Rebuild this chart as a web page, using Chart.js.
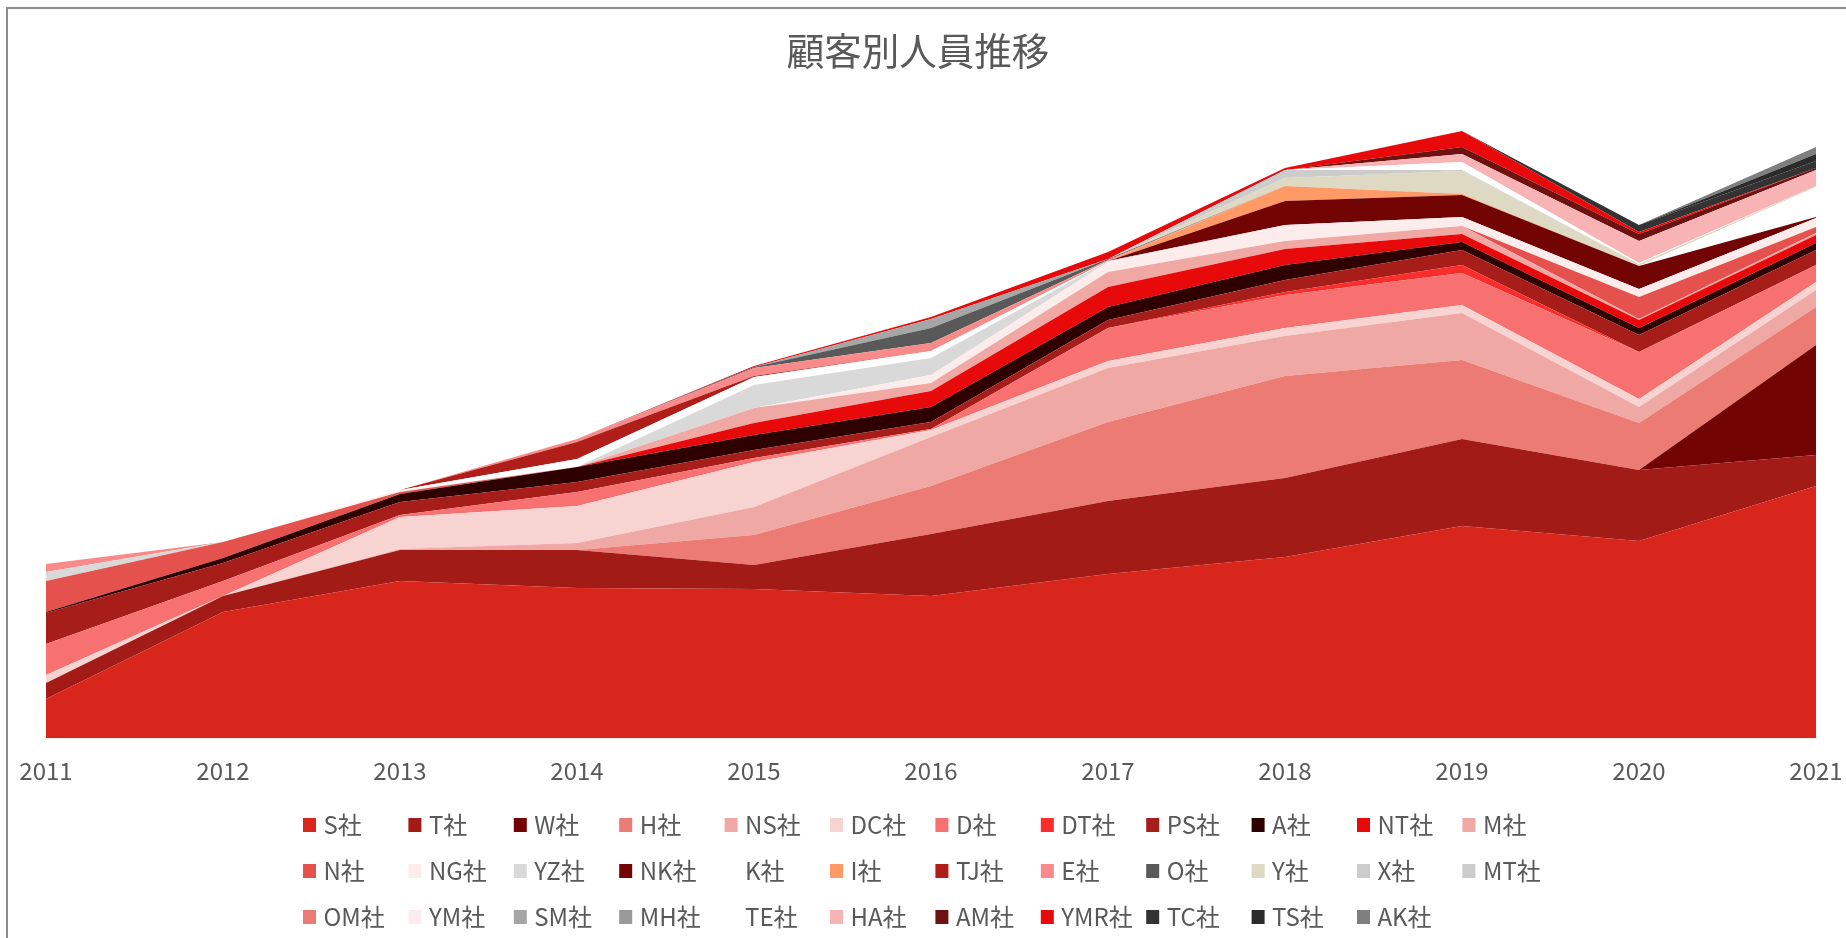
<!DOCTYPE html>
<html>
<head>
<meta charset="utf-8">
<script src="https://cdn.jsdelivr.net/npm/chart.js@4.4.1/dist/chart.umd.min.js"></script>
<style>
  html, body { margin: 0; padding: 0; background: #ffffff; overflow: hidden; }
  #frame { position: absolute; left: 6px; top: 7px; width: 2400px; height: 1600px; border: 2px solid #8c8c8c; box-sizing: border-box; }
  #wrap { position: absolute; left: 0; top: 0; width: 1846px; height: 938px; }
</style>
</head>
<body>
<div id="frame"></div>
<div id="wrap"><canvas id="c" width="1846" height="938"></canvas></div>
<script>
// Categories (years)
const years = ['2011','2012','2013','2014','2015','2016','2017','2018','2019','2020','2021'];

const chartTitle = '顧客別人員推移';

// Company names (legend order = stacking order, bottom to top)
const companies = ['S社','T社','W社','H社','NS社','DC社','D社','DT社','PS社','A社','NT社','M社',
                   'N社','NG社','YZ社','NK社','K社','I社','TJ社','E社','O社','Y社','X社','MT社',
                   'OM社','YM社','SM社','MH社','TE社','HA社','AM社','YMR社','TC社','TS社','AK社'];

// Series values, one array per company, 2011..2021
const S   = [39,126,157,150,149,142,164,181,212,197,252];
const T   = [16,16,31,38,24,62,73,79,87,71,31];
const W   = [0,0,0,0,0,0,0,0,0,0,110];
const H   = [0,0,0,0,30,48,79,102,79,47,38];
const NS  = [0,0,1,7,28,49,54,40,47,16,17];
const DC  = [8,0,32,37,45,7,7,8,8,8,8];
const D   = [31,15,2,14,4,1,33,33,32,47,17];
const DT  = [0,0,0,0,0,0,0,3,8,0,0];
const PS  = [31,18,13,10,8,7,8,12,15,17,15];
const A   = [1,5,8,15,15,15,13,15,8,7,7];
const NT  = [0,0,0,0,12,16,20,16,8,8,8];
const M   = [0,0,0,0,15,8,15,8,8,1,2];
const N   = [31,16,2,0,0,0,0,0,0,22,6];
const NG  = [0,0,2,0,0,8,10,16,9,8,9];
const YZ  = [9,0,0,0,23,17,1,0,0,0,0];
const NK  = [0,0,0,0,0,0,0,24,22,23,1];
const K   = [0,0,0,8,8,7,0,0,0,0,30];
const I   = [0,0,0,0,0,0,0,15,1,0,0];
const TJ  = [0,0,0,17,1,0,0,0,0,0,0];
const E   = [8,0,0,3,8,8,1,0,0,0,0];
const O   = [0,0,0,0,1,15,1,0,0,0,0];
const Y   = [0,0,0,0,0,0,0,8,23,2,1];
const X   = [0,0,0,0,0,0,0,8,1,0,0];
const MT  = [0,0,0,0,0,0,0,0,0,0,0];
const OM  = [0,0,0,0,0,0,0,0,0,0,0];
const YM  = [0,0,0,0,0,0,0,0,0,0,0];
const SM  = [0,0,0,0,0,9,0,0,0,0,0];
const MH  = [0,0,0,0,0,0,0,0,0,0,0];
const TE  = [0,0,0,0,0,0,0,0,8,1,0];
const HA  = [0,0,0,0,0,0,0,0,8,22,16];
const AM  = [0,0,0,0,0,0,0,0,7,7,2];
const YMR = [0,0,0,0,1,2,7,2,16,2,0];
const TC  = [0,0,0,0,0,0,0,0,0,7,7];
const TS  = [0,0,0,0,0,0,0,0,0,0,7];
const AK  = [0,0,0,0,0,0,0,0,0,0,7];

const seriesValues = [S,T,W,H,NS,DC,D,DT,PS,A,NT,M,N,NG,YZ,NK,K,I,TJ,E,O,Y,X,MT,OM,YM,SM,MH,TE,HA,AM,YMR,TC,TS,AK];

const colors = ['#D9261C','#A31B17','#730404','#EB7B73','#F0A8A5','#F7D3D2','#F87171','#FA2D2D','#A61D19','#2E0000','#E80A0A','#F0A8A5',
                '#E5514C','#FDECEC','#D9D9D9','#730404','#FFFFFF','#FF9966','#B01E1A','#F88A8A','#595959','#DDD9C3','#CCCCCC','#CCCCCC',
                '#EB7B73','#FDECEF','#A6A6A6','#999999','#FFFFFF','#F8B4B4','#6E1111','#E80A0A','#333333','#2B2B2B','#7F7F7F'];

const FONT = '"Noto Sans CJK JP", "Noto Sans", sans-serif';
Chart.defaults.font.family = FONT;

const datasets = companies.map((name, i) => ({
  label: name,
  data: seriesValues[i],
  backgroundColor: colors[i],
  borderColor: 'rgba(0,0,0,0)',
  borderWidth: 0,
  pointRadius: 0,
  pointHoverRadius: 0,
  tension: 0,
  fill: i === 0 ? 'origin' : '-1'
}));

const titleAndLegend = {
  id: 'titleAndLegend',
  afterDraw(chart) {
    const ctx = chart.ctx;
    ctx.save();
    // title
    ctx.font = '37.5px ' + FONT;
    ctx.fillStyle = '#595959';
    ctx.textAlign = 'center';
    ctx.textBaseline = 'middle';
    ctx.fillText(chartTitle, 918, 51);
    // legend grid
    ctx.font = '24px ' + FONT;
    ctx.textAlign = 'left';
    const x0 = 303, dx = 105.4, y0 = 825, dy = 46, perRow = 12;
    chart.data.datasets.forEach((ds, i) => {
      const row = Math.floor(i / perRow), col = i % perRow;
      const x = x0 + col * dx, y = y0 + row * dy;
      ctx.fillStyle = ds.backgroundColor;
      ctx.fillRect(x, y - 7, 13, 14);
      ctx.fillStyle = '#595959';
      ctx.fillText(ds.label, x + 20.5, y);
    });
    ctx.restore();
  }
};

new Chart(document.getElementById('c'), {
  type: 'line',
  data: { labels: years, datasets },
  options: {
    responsive: false,
    animation: false,
    events: [],
    layout: { padding: { left: 46, right: 30, top: 98, bottom: 135.2 } },
    plugins: {
      legend: { display: false },
      tooltip: { enabled: false },
      title: { display: false }
    },
    scales: {
      x: {
        grid: { display: false, drawTicks: false },
        border: { display: true, color: '#D9D9D9', width: 1.5 },
        ticks: { color: '#595959', font: { size: 24 }, padding: 18, maxRotation: 0, autoSkip: false },
        afterFit(scale) { scale.paddingLeft = 0; scale.paddingRight = 0; }
      },
      y: {
        display: false,
        stacked: true,
        min: 0,
        max: 640
      }
    }
  },
  plugins: [titleAndLegend]
});
</script>
</body>
</html>
